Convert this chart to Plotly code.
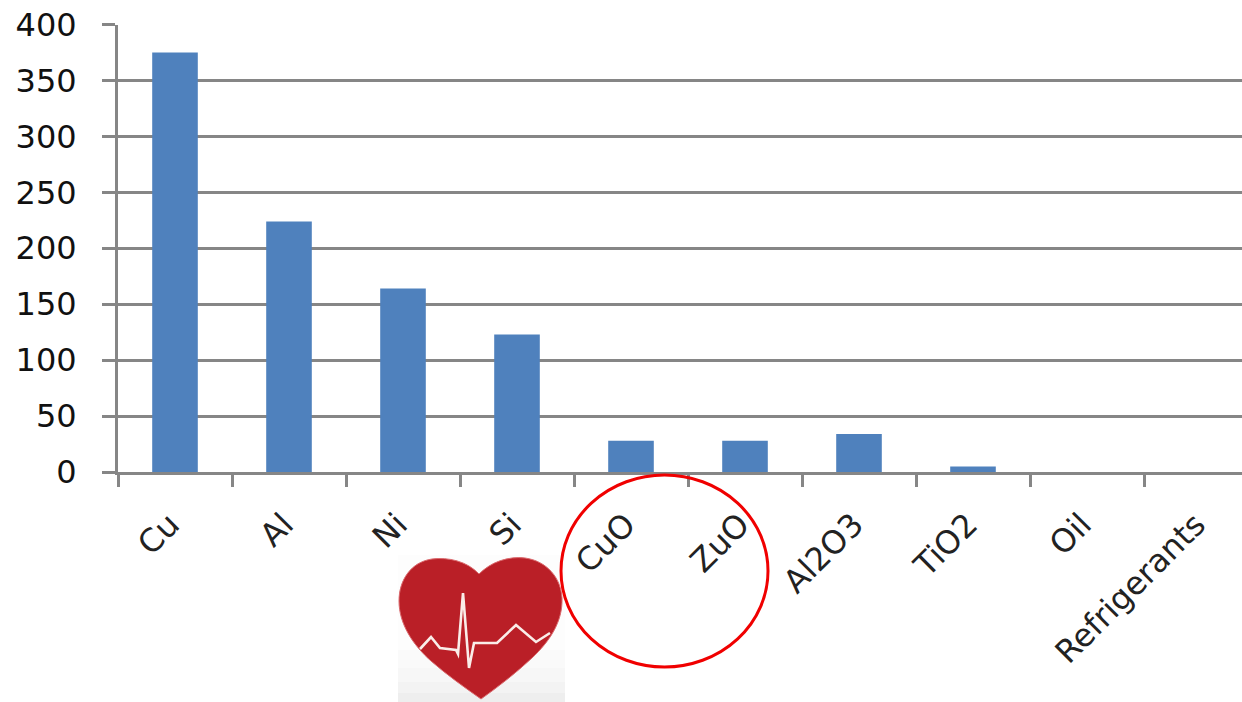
import plotly.graph_objects as go

categories = ["Cu", "Al", "Ni", "Si", "CuO", "ZuO", "Al2O3", "TiO2", "Oil", "Refrigerants"]
values = [375, 224, 164, 123, 28, 28, 34, 5, 0, 0]
y_ticks = [0, 50, 100, 150, 200, 250, 300, 350, 400]

W, H = 1242, 702
LEFT, TOP, BOTTOM = 118, 24.5, 472
CATEGORY_STEP = 114
GREY = "#868686"


def px(x):
    return x / W


def py(y):
    return 1 - y / H


def polyline(points):
    return " ".join(f"{'M' if i == 0 else 'L'}{px(x):.5f},{py(y):.5f}" for i, (x, y) in enumerate(points))


def curve(start, segments):
    # Closed cubic outline built from screen-pixel control points.
    d = f"M{px(start[0]):.5f},{py(start[1]):.5f}"
    for seg in segments:
        d += " C" + " ".join(f"{px(x):.5f},{py(y):.5f}" for x, y in seg)
    return d + " Z"


def paper_rect(x0, x1, y0, y1, color):
    return dict(type="rect", xref="paper", yref="paper", x0=px(x0), x1=px(x1), y0=py(y1), y1=py(y0),
                fillcolor=color, line_width=0, layer="above")


fig = go.Figure(
    go.Bar(x=categories, y=values, width=0.4, marker=dict(color="#4F81BD", line_width=0))
)

heart = curve(
    (479, 574),
    [
        ((467, 561), (448, 557), (432, 559)),
        ((411, 562), (399, 580), (399, 601)),
        ((399, 624), (413, 645), (431, 661)),
        ((447, 675), (464, 687), (481, 699)),
        ((498, 687), (516, 673), (532, 658)),
        ((549, 642), (563, 622), (562, 598)),
        ((561, 578), (547, 561), (525, 558)),
        ((508, 556), (491, 562), (479, 574)),
    ],
)
ecg = [
    (420, 649), (431, 637), (440, 648), (456, 650), (458, 654), (463, 593),
    (469, 668), (474, 643), (497, 643), (516, 625), (536, 642), (550, 633),
]

# Icon backdrop fades from white to a pale grey towards its lower edge.
shapes = [
    paper_rect(398, 565, 555, 650, "#FDFDFD"),
    paper_rect(398, 565, 650, 668, "#FAFAFA"),
    paper_rect(398, 565, 668, 682, "#F7F7F7"),
    paper_rect(398, 565, 682, 693, "#F3F3F3"),
    paper_rect(398, 565, 693, 702, "#EEEEEE"),
    dict(type="path", xref="paper", yref="paper", path=heart, fillcolor="#BA1F27",
         line=dict(color="#DB6A6E", width=1), layer="above"),
    dict(type="path", xref="paper", yref="paper", path=polyline(ecg), fillcolor="rgba(0,0,0,0)",
         line=dict(color="#FAEDE9", width=2.6), layer="above"),
    dict(type="circle", xref="paper", yref="paper", x0=px(561), x1=px(768), y0=py(667), y1=py(475),
         fillcolor="rgba(0,0,0,0)", line=dict(color="#F00000", width=3), layer="above"),
]

fig.update_layout(
    width=W,
    height=H,
    margin=dict(l=0, r=0, t=0, b=0, pad=0),
    autosize=False,
    paper_bgcolor="white",
    plot_bgcolor="white",
    showlegend=False,
    font=dict(family="DejaVu Sans", color="#111111"),
    shapes=shapes,
    xaxis=dict(
        automargin=False,
        type="category",
        categoryorder="array",
        categoryarray=categories,
        domain=[LEFT / W, 1],
        range=[-0.5, -0.5 + (W - LEFT) / CATEGORY_STEP],
        ticks="outside",
        tickson="boundaries",
        ticklen=12,
        tickwidth=3,
        tickcolor=GREY,
        tickangle=-45,
        tickfont=dict(size=32, color="#222222"),
        ticklabelstandoff=18,
        ticklabelshift=-5,
        showline=True,
        linewidth=3,
        linecolor=GREY,
        showgrid=False,
        zeroline=False,
    ),
    yaxis=dict(
        automargin=False,
        domain=[1 - BOTTOM / H, 1 - TOP / H],
        range=[0, 400],
        tickmode="array",
        tickvals=y_ticks,
        ticks="outside",
        ticklen=13,
        tickwidth=3,
        tickcolor=GREY,
        tickfont=dict(size=32, color="#111111"),
        ticklabelstandoff=19,
        showline=True,
        linewidth=3,
        linecolor=GREY,
        showgrid=True,
        gridwidth=3,
        gridcolor=GREY,
        zeroline=False,
    ),
)

fig.write_html("out.html")
